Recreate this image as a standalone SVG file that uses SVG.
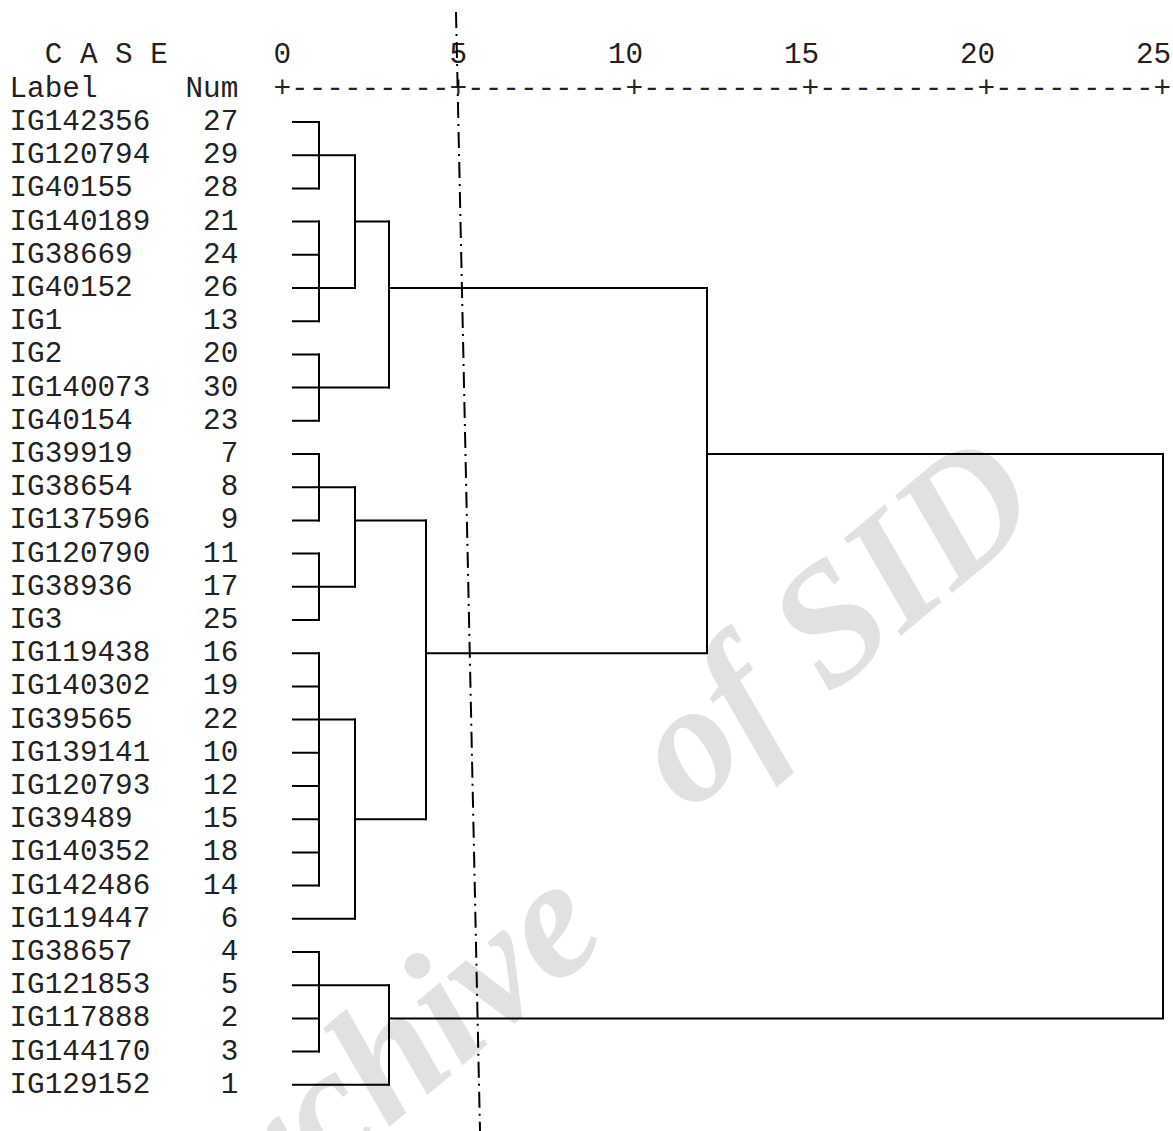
<svg xmlns="http://www.w3.org/2000/svg" width="1173" height="1131" viewBox="0 0 1173 1131">
<style>
.t{font-family:"Liberation Mono","Courier New",monospace;font-size:29.33px;fill:#222}
.n{text-anchor:end}
.wm{font-family:"Liberation Serif","Times New Roman",serif;font-style:italic;font-weight:bold;font-size:170px;fill:#e1e1e1}
.c{fill:none;stroke:#000;stroke-width:2;stroke-linecap:square}
.cut{fill:none;stroke:#000;stroke-width:2;stroke-dasharray:16 6 2 6}
</style>
<rect width="1173" height="1131" fill="#fff"/>
<g id="watermark">
<text class="wm" transform="translate(191.4 1292.8) rotate(-40)">Archive</text>
<text class="wm" transform="translate(688.5 814.2) rotate(-40)">of SID</text>
</g>
<g id="header">
<text class="t" x="44.7" y="63.3">C A S E</text>
<text class="t" x="9.5" y="96.8">Label</text>
<text class="t" x="185.5" y="96.8">Num</text>
</g>
<g id="axis">
<text class="t" x="282.3" y="63.3" text-anchor="middle">0</text>
<text class="t" x="458.3" y="63.3" text-anchor="middle">5</text>
<text class="t" x="643.1" y="63.3" text-anchor="end">10</text>
<text class="t" x="819.1" y="63.3" text-anchor="end">15</text>
<text class="t" x="995.1" y="63.3" text-anchor="end">20</text>
<text class="t" x="1171.1" y="63.3" text-anchor="end">25</text>
<text class="t" x="273.5" y="96.8" textLength="897.6" lengthAdjust="spacing">+---------+---------+---------+---------+---------+</text>
</g>
<g id="case-27"><text class="t" x="9.5" y="130">IG142356</text><text class="t n" x="238.3" y="130">27</text></g>
<g id="case-29"><text class="t" x="9.5" y="163.2">IG120794</text><text class="t n" x="238.3" y="163.2">29</text></g>
<g id="case-28"><text class="t" x="9.5" y="196.4">IG40155</text><text class="t n" x="238.3" y="196.4">28</text></g>
<g id="case-21"><text class="t" x="9.5" y="229.6">IG140189</text><text class="t n" x="238.3" y="229.6">21</text></g>
<g id="case-24"><text class="t" x="9.5" y="262.8">IG38669</text><text class="t n" x="238.3" y="262.8">24</text></g>
<g id="case-26"><text class="t" x="9.5" y="296">IG40152</text><text class="t n" x="238.3" y="296">26</text></g>
<g id="case-13"><text class="t" x="9.5" y="329.2">IG1</text><text class="t n" x="238.3" y="329.2">13</text></g>
<g id="case-20"><text class="t" x="9.5" y="362.4">IG2</text><text class="t n" x="238.3" y="362.4">20</text></g>
<g id="case-30"><text class="t" x="9.5" y="395.6">IG140073</text><text class="t n" x="238.3" y="395.6">30</text></g>
<g id="case-23"><text class="t" x="9.5" y="428.8">IG40154</text><text class="t n" x="238.3" y="428.8">23</text></g>
<g id="case-7"><text class="t" x="9.5" y="462">IG39919</text><text class="t n" x="238.3" y="462">7</text></g>
<g id="case-8"><text class="t" x="9.5" y="495.2">IG38654</text><text class="t n" x="238.3" y="495.2">8</text></g>
<g id="case-9"><text class="t" x="9.5" y="528.4">IG137596</text><text class="t n" x="238.3" y="528.4">9</text></g>
<g id="case-11"><text class="t" x="9.5" y="561.6">IG120790</text><text class="t n" x="238.3" y="561.6">11</text></g>
<g id="case-17"><text class="t" x="9.5" y="594.8">IG38936</text><text class="t n" x="238.3" y="594.8">17</text></g>
<g id="case-25"><text class="t" x="9.5" y="628">IG3</text><text class="t n" x="238.3" y="628">25</text></g>
<g id="case-16"><text class="t" x="9.5" y="661.2">IG119438</text><text class="t n" x="238.3" y="661.2">16</text></g>
<g id="case-19"><text class="t" x="9.5" y="694.4">IG140302</text><text class="t n" x="238.3" y="694.4">19</text></g>
<g id="case-22"><text class="t" x="9.5" y="727.6">IG39565</text><text class="t n" x="238.3" y="727.6">22</text></g>
<g id="case-10"><text class="t" x="9.5" y="760.8">IG139141</text><text class="t n" x="238.3" y="760.8">10</text></g>
<g id="case-12"><text class="t" x="9.5" y="794">IG120793</text><text class="t n" x="238.3" y="794">12</text></g>
<g id="case-15"><text class="t" x="9.5" y="827.2">IG39489</text><text class="t n" x="238.3" y="827.2">15</text></g>
<g id="case-18"><text class="t" x="9.5" y="860.4">IG140352</text><text class="t n" x="238.3" y="860.4">18</text></g>
<g id="case-14"><text class="t" x="9.5" y="893.6">IG142486</text><text class="t n" x="238.3" y="893.6">14</text></g>
<g id="case-6"><text class="t" x="9.5" y="926.8">IG119447</text><text class="t n" x="238.3" y="926.8">6</text></g>
<g id="case-4"><text class="t" x="9.5" y="960">IG38657</text><text class="t n" x="238.3" y="960">4</text></g>
<g id="case-5"><text class="t" x="9.5" y="993.2">IG121853</text><text class="t n" x="238.3" y="993.2">5</text></g>
<g id="case-2"><text class="t" x="9.5" y="1026.4">IG117888</text><text class="t n" x="238.3" y="1026.4">2</text></g>
<g id="case-3"><text class="t" x="9.5" y="1059.6">IG144170</text><text class="t n" x="238.3" y="1059.6">3</text></g>
<g id="case-1"><text class="t" x="9.5" y="1092.8">IG129152</text><text class="t n" x="238.3" y="1092.8">1</text></g>
<g id="connectors">
<path class="c" d="M293 122H319M293 155.2H319M293 188.4H319M293 221.6H319M293 254.8H319M293 288H319M293 321.2H319M293 354.4H319M293 387.6H319M293 420.8H319M293 454H319M293 487.2H319M293 520.4H319M293 553.6H319M293 586.8H319M293 620H319M293 653.2H319M293 686.4H319M293 719.6H319M293 752.8H319M293 786H319M293 819.2H319M293 852.4H319M293 885.6H319M293 918.8H355M293 952H319M293 985.2H319M293 1018.4H319M293 1051.6H319M293 1084.8H389"/>
<path class="c" d="M319 122V188.4M319 221.6V321.2M319 354.4V420.8M319 454V520.4M319 553.6V620M319 653.2V885.6M319 952V1051.6"/>
<path class="c" d="M319 155.2H355M319 288H355M319 387.6H389M319 487.2H355M319 586.8H355M319 719.6H355M319 985.2H389"/>
<path class="c" d="M355 155.2V288M355 487.2V586.8M355 719.6V918.8M355 221.6H389M355 520.4H426M355 819.2H426"/>
<path class="c" d="M389 221.6V387.6M389 985.2V1084.8M389 288H707M426 520.4V819.2M426 653.2H707M707 288V653.2M707 454H1163M1163 454V1018.4M389 1018.4H1163"/>
</g>
<g id="cut-line">
<path class="cut" d="M456 12L480 1131"/>
</g>
</svg>
